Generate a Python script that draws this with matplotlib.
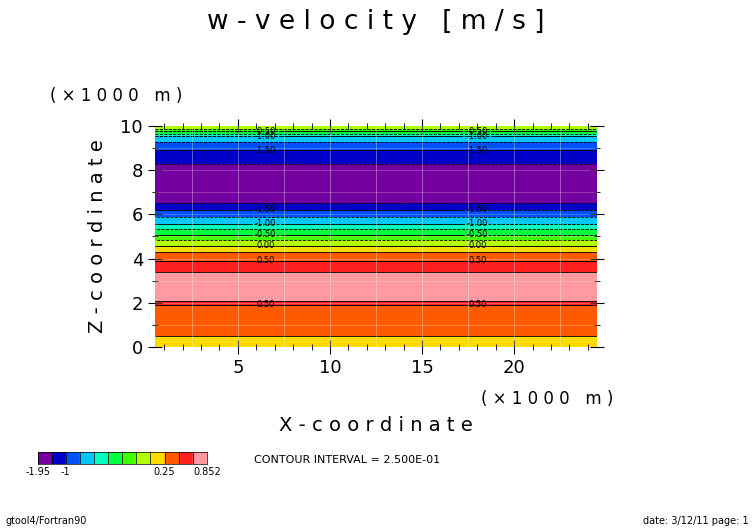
import numpy as np
import matplotlib.pyplot as plt
from matplotlib.colors import ListedColormap, BoundaryNorm

# vertical profile of w
z_pts = [0.0, 0.5, 1.0, 1.9, 2.1, 2.75, 3.4, 3.9, 4.3, 4.57, 5.07, 5.57, 6.2, 6.5, 7.4, 8.3, 8.9, 9.3, 9.55, 10.0]
w_pts = [0.0, 0.25, 0.35, 0.5, 0.75, 0.852, 0.75, 0.5, 0.25, 0.0, -0.5, -1.0, -1.5, -1.75, -1.95, -1.75, -1.5, -1.25, -1.0, 0.0]
x_range = [0.5, 24.5]

levels = [-1.95, -1.75, -1.5, -1.25, -1.0, -0.75, -0.5, -0.25, 0.0, 0.25, 0.5, 0.75, 0.852]
colors = ["#7400a0", "#0000c8", "#0050ff", "#00c8ff", "#00ffc0", "#00ff40",
          "#40ff00", "#b4ff00", "#ffdc00", "#ff5a00", "#ff2020", "#ff9aa0"]
cmap = ListedColormap(colors)
norm = BoundaryNorm(levels, cmap.N)

z = np.linspace(0, 10, 401)
x = np.linspace(x_range[0], x_range[1], 50)
w = np.interp(z, z_pts, w_pts)
W = np.tile(w[:, None], (1, len(x)))

fig = plt.figure(figsize=(7.52, 5.32), dpi=100)
ax = fig.add_axes([0.206, 0.348, 0.588, 0.415])
ax.contourf(x, z, W, levels=levels, cmap=cmap, norm=norm)
ax.contour(x, z, W, levels=levels[1:-1], colors="k", linewidths=0.6)

lab_lv = [-1.5, -1.0, -0.5, 0.0, 0.5]
cl2 = ax.contour(x, z, W, levels=lab_lv, colors="k", linewidths=0.6)
label_z = [8.9, 6.2, 5.57, 5.07, 4.57, 3.9, 1.9, 9.55, 9.9]
ax.clabel(cl2, fmt="%.2f", fontsize=6,
          manual=[(6.5, zz) for zz in label_z] + [(18, zz) for zz in label_z])
ax.set_xlim(x_range)
ax.set_ylim(0, 10)
for xg in np.arange(2.5, 24.5, 2.5):
    ax.axvline(xg, color="white", lw=0.4, alpha=0.6)
for yg in range(1, 10):
    ax.axhline(yg, color="white", lw=0.4, alpha=0.4)
ax.set_xticks([5, 10, 15, 20])
ax.set_xticks(np.arange(1, 25), minor=True)
ax.set_yticks([0, 2, 4, 6, 8, 10])
ax.set_yticks(np.arange(0, 11), minor=True)
ax.tick_params(which="both", direction="inout", top=True, right=True, labelsize=13)
ax.tick_params(which="major", length=10)
ax.tick_params(which="minor", length=5)
for s in ax.spines.values():
    s.set_visible(False)

ax.set_xlabel("X - c o o r d i n a t e", fontsize=14, labelpad=28)
ax.set_ylabel("Z - c o o r d i n a t e", fontsize=14, labelpad=10)
fig.text(0.5, 0.945, "w - v e l o c i t y   [ m / s ]", ha="center", fontsize=19)
fig.text(0.067, 0.81, "( × 1 0 0 0   m )", fontsize=12)
fig.text(0.64, 0.24, "( × 1 0 0 0   m )", fontsize=12)
fig.text(0.338, 0.13, "CONTOUR INTERVAL = 2.500E-01", fontsize=8)
fig.text(0.007, 0.015, "gtool4/Fortran90", fontsize=7)
fig.text(0.995, 0.015, "date: 3/12/11 page: 1", fontsize=7, ha="right")

cax = fig.add_axes([0.05, 0.128, 0.225, 0.023])
for i, c in enumerate(colors):
    cax.axvspan(i, i + 1, color=c)
    cax.axvline(i, color="k", lw=0.5)
cax.set_xlim(0, 12)
cax.set_yticks([])
cax.set_xticks([0, 2, 9, 12])
cax.set_xticklabels(["-1.95", "-1", "0.25", "0.852"], fontsize=7)
cax.tick_params(length=0, pad=2)
for s in cax.spines.values():
    s.set_linewidth(0.5)

fig.savefig("out.png", dpi=100)
